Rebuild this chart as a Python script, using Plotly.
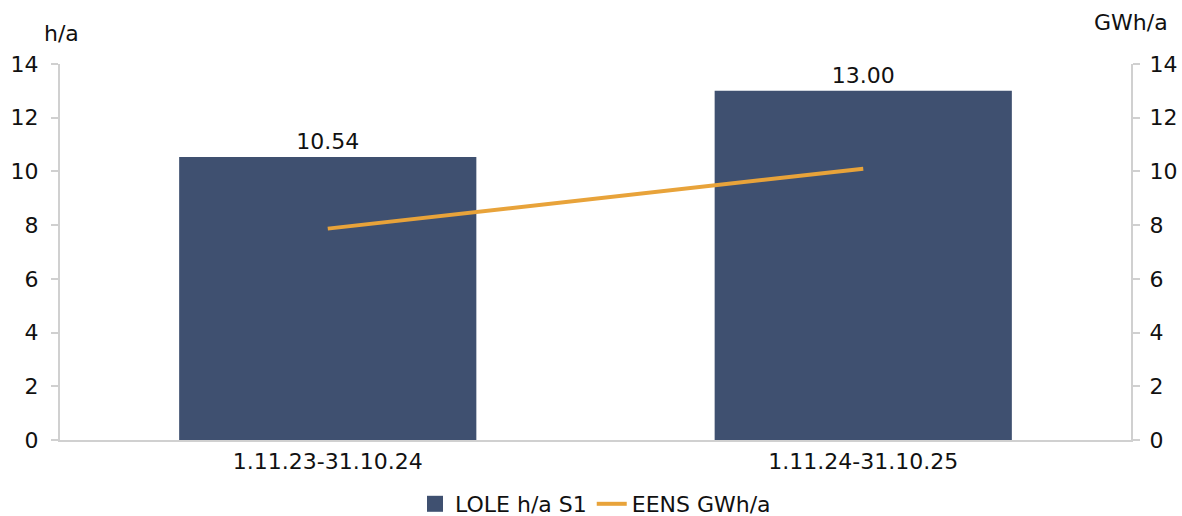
import plotly.graph_objects as go

categories = ["1.11.23-31.10.24", "1.11.24-31.10.25"]
lole = [10.54, 13.00]
eens = [7.87, 10.1]
tick_vals = [0, 2, 4, 6, 8, 10, 12, 14]

FONT = "Verdana, DejaVu Sans, sans-serif"
FS = 22
BAR = "#3F5070"
LINE = "#E8A33A"
AX = "#D0D0D0"
TXT = "#111111"

fig = go.Figure()
fig.add_trace(go.Bar(
    x=categories, y=lole, name="LOLE h/a S1", showlegend=False,
    marker=dict(color=BAR, line=dict(width=0)),
    text=[f"{v:.2f}" for v in lole], textposition="outside",
    textfont=dict(size=FS, color=TXT, family=FONT),
    cliponaxis=False,
))
# legend entry with a large square swatch, like the reference
fig.add_trace(go.Scatter(
    x=[None], y=[None], name="LOLE h/a S1", mode="markers",
    marker=dict(symbol="square", size=22, color=BAR),
))
fig.add_trace(go.Scatter(
    x=categories, y=eens, name="EENS GWh/a", yaxis="y2",
    mode="lines", line=dict(color=LINE, width=4),
))

axis_common = dict(
    range=[0, 14], tickvals=tick_vals, showgrid=False, zeroline=False,
    showline=True, linecolor=AX, linewidth=2, ticks="outside",
    tickcolor=AX, ticklen=7, tickwidth=2,
    tickfont=dict(size=FS, color=TXT, family=FONT),
    automargin=False,
)

fig.update_layout(
    width=1182, height=516,
    margin=dict(l=60, r=51, t=64, b=76, autoexpand=False),
    plot_bgcolor="white", paper_bgcolor="white",
    font=dict(family=FONT, size=FS, color=TXT),
    bargap=0.445,
    xaxis=dict(showline=True, linecolor=AX, linewidth=2, ticks="",
               tickfont=dict(size=FS, color=TXT, family=FONT),
               ticklabelstandoff=1, automargin=False),
    yaxis=dict(**axis_common, ticklabelstandoff=8),
    yaxis2=dict(**axis_common, overlaying="y", side="right", ticklabelstandoff=5),
    showlegend=True,
    legend=dict(orientation="h", x=0.5, xanchor="center",
                y=(440 - 504) / 376, yanchor="middle",
                font=dict(size=FS, family=FONT, color=TXT), itemwidth=30,
                tracegroupgap=0),
    annotations=[
        dict(text="h/a", xref="paper", yref="paper", x=-0.0168, y=(440 - 33) / 376,
             xanchor="left", yanchor="middle", showarrow=False,
             font=dict(size=FS, family=FONT, color=TXT)),
        dict(text="GWh/a", xref="paper", yref="paper", x=(1170 - 60) / 1071, y=(440 - 22) / 376,
             xanchor="right", yanchor="middle", showarrow=False,
             font=dict(size=FS, family=FONT, color=TXT)),
    ],
)

fig.write_html("out.html", config={"displayModeBar": False},
               post_script="document.body.style.margin='0';document.body.style.overflow='hidden';")
